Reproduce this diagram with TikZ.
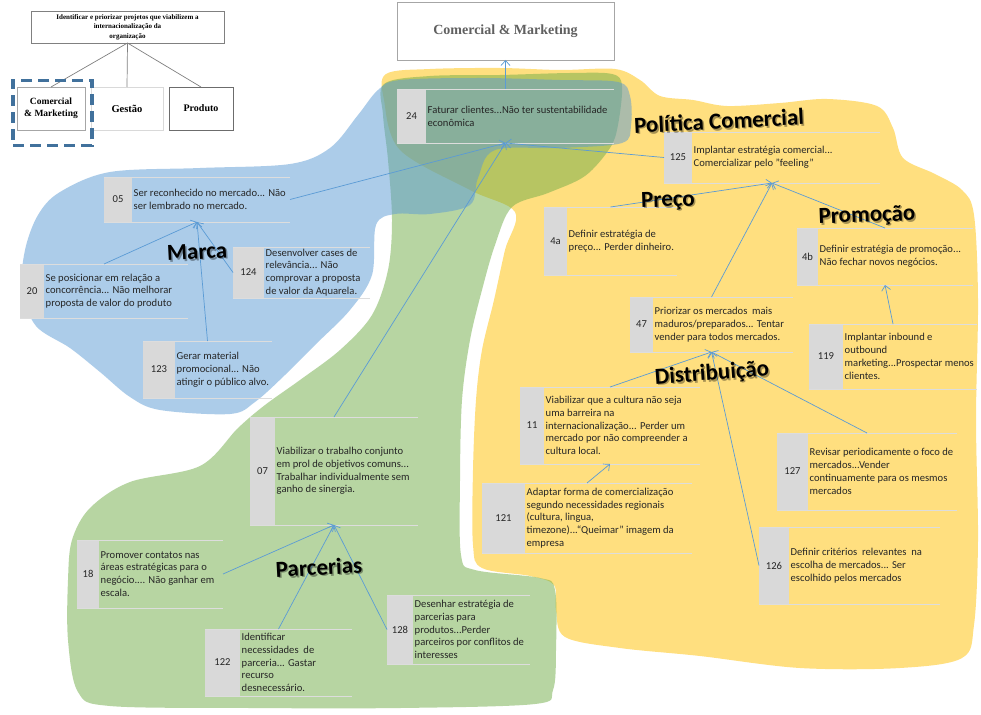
\documentclass[tikz,border=0pt]{standalone}
\usepackage{fontspec}
\setmainfont{Carlito}
\newfontfamily\timesfont{Liberation Serif}
\usetikzlibrary{arrows.meta}

\definecolor{blueF}{HTML}{5B9BD5}
\definecolor{greenF}{HTML}{70AD47}
\definecolor{yellowF}{HTML}{FFC000}
\definecolor{connblue}{HTML}{5B9BD5}
\definecolor{cellgray}{HTML}{D9D9D9}
\definecolor{rowgray}{HTML}{DDDDDD}
\definecolor{textdark}{HTML}{262626}
\definecolor{dashblue}{HTML}{41719C}
\definecolor{boxgray}{HTML}{A6A6A6}

\tikzset{
  issuetext/.style={font=\fontsize{10.6}{12.8}\selectfont, text=textdark, align=left, inner sep=0pt, anchor=west},
  numtext/.style={font=\fontsize{10.6}{12}\selectfont, text=textdark, inner sep=0pt},
  rowbox/.style={draw=none, inner sep=0pt, outer sep=0pt, rectangle},
  rowline/.style={draw=rowgray, line width=0.8pt},
  conn/.style={draw=connblue, line width=0.7pt, -{Straight Barb[length=5pt,width=9pt]}},
  regiontitle/.style={font=\fontsize{23}{23}\selectfont\bfseries, inner sep=0pt},
  hbox/.style={draw=#1, line width=0.8pt, fill=white, inner sep=1pt, align=center, outer sep=0pt},
  hline/.style={draw=gray, line width=0.7pt},
  region/.style={fill=#1, fill opacity=0.5, draw=none},
}

% one issue row: name, x1, y1, x2, y2, right edge of the number cell, number, text
\newcommand\issuerow[8]{%
  \fill[cellgray] (#2,#3) rectangle (#6,#5);
  \draw[rowline] (#2,#3) -- (#4,#3) (#2,#5) -- (#4,#5);
  \node[rowbox, minimum width={(#4)-(#2)}, minimum height={(#5)-(#3)}] (#1) at ({((#2)+(#4))/2},{((#3)+(#5))/2}) {};
  \node[numtext] (#1num) at ({((#2)+(#6))/2},{((#3)+(#5))/2}) {#7};
  \node[issuetext] (#1txt) at ({(#6)+1.5},{((#3)+(#5))/2}) {#8};
}

% area heading with a soft shadow: name, x, y, angle, text
\newcommand\areaheading[5]{%
  \node[regiontitle, text=black, opacity=0.35, rotate=#4] (#1shadow) at ({(#2)+1.5},{(#3)+1.5}) {#5};
  \node[regiontitle, rotate=#4] (#1) at (#2,#3) {#5};
}

\begin{document}
\begin{tikzpicture}[x=1pt,y=-1pt]
\useasboundingbox (0,0) rectangle (981,714);
\fill[white] (0,0) rectangle (981,714);

% ---- coloured areas ----
\path[region=yellowF] plot[smooth cycle, tension=0.55] coordinates {
  (386,74) (430,69) (500,68) (560,70) (615,69) (640,80) (660,96) (693,100)
  (727,106) (780,103) (827,99) (877,106) (893,128) (903,158) (935,174)
  (962,190) (974,215) (978,300) (976,420) (978,540) (974,625) (962,658)
  (900,668) (800,668) (700,656) (620,648) (565,637) (556,610) (554,585)
  (530,576) (482,568) (473,545) (473,470) (476,400) (482,350) (494,300)
  (505,250) (515,212) (470,190) (400,150) (384,100)};

\path[region=greenF] plot[smooth cycle, tension=0.55] coordinates {
  (384,84) (430,76) (500,75) (570,73) (612,74) (622,86) (618,125) (610,148)
  (585,176) (548,193) (512,207) (495,245) (482,290) (470,340) (462,400)
  (460,480) (461,555) (475,570) (540,578) (555,590) (556,650) (553,690)
  (535,704) (400,708) (250,708) (110,706) (78,692) (68,640) (68,580)
  (72,540) (90,508) (130,482) (200,466) (238,428) (265,405) (300,380)
  (340,350) (372,315) (388,270) (392,220) (388,160) (383,115)};

\path[region=blueF] plot[smooth cycle, tension=0.55] coordinates {
  (60,192) (110,172) (200,168) (290,164) (330,148) (358,115) (378,90)
  (400,80) (480,78) (560,80) (618,82) (630,96) (631,125) (622,143)
  (560,148) (495,150) (478,178) (470,205) (430,214) (395,214) (376,225)
  (372,275) (350,310) (315,345) (285,375) (255,402) (230,414) (160,410)
  (130,397) (100,372) (70,348) (36,326) (22,290) (25,250) (38,215)};

% ---- hierarchy, top left ----
\node[hbox=gray, minimum width=193, minimum height=32,
      font=\timesfont\bfseries\fontsize{7}{9.4}\selectfont] (goal) at (127.5,27)
  {Identificar e priorizar projetos que viabilizem a\\internacionalização da\\organização};
\node[hbox=boxgray, minimum width=68, minimum height=43,
      font=\timesfont\bfseries\fontsize{9.5}{11.8}\selectfont] (cm) at (51,108.5) {Comercial\\\& Marketing};
\node[hbox=cellgray, minimum width=72, minimum height=43,
      font=\timesfont\bfseries\fontsize{10.5}{12}\selectfont] (gestao) at (127,108.5) {Gestão};
\node[hbox=gray!85!black, minimum width=64, minimum height=43,
      font=\timesfont\bfseries\fontsize{10}{12}\selectfont] (produto) at (201,108.5) {Produto};
\draw[hline] (goal.south) -- (cm.north);
\draw[hline] (goal.south) -- (gestao.north);
\draw[hline] (goal.south) -- (produto.north);
\node[draw=dashblue, line width=3.6pt, dash pattern=on 11pt off 6pt, minimum width=79, minimum height=65,
      inner sep=0pt] (cmsel) at (52.5,113) {};

% ---- heading box ----
\node[hbox=boxgray, minimum width=217, minimum height=58, text=gray!75!black,
      font=\timesfont\bfseries\fontsize{14}{15}\selectfont] (topcm) at (505.5,31) {Comercial \& Marketing};

% ---- issue rows ----
\issuerow{n24}{397}{89}{614}{143}{426}{24}{Faturar clientes...Não ter sustentabilidade\\econômica}
\issuerow{n05}{104}{177}{290}{222}{132}{05}{Ser reconhecido no mercado... Não\\ser lembrado no mercado.}
\issuerow{n20}{20}{264}{188}{318}{44}{20}{Se posicionar em relação a\\concorrência... Não melhorar\\proposta de valor do produto}
\issuerow{n124}{233}{247}{370}{298}{264}{124}{Desenvolver cases de\\relevância... Não\\comprovar a proposta\\de valor da Aquarela.}
\issuerow{n123}{143}{341}{272}{398}{175}{123}{Gerar material\\promocional... Não\\atingir o público alvo.}
\issuerow{n125}{664}{132}{880}{183}{692}{125}{Implantar estratégia comercial...\\Comercializar pelo "feeling"}
\issuerow{n4a}{544}{207}{677}{275}{567}{4a}{Definir estratégia de\\preço... Perder dinheiro.}
\issuerow{n4b}{797}{228}{973}{285}{818}{4b}{Definir estratégia de promoção...\\Não fechar novos negócios.}
\issuerow{n47}{630}{297}{793}{352}{653}{47}{Priorizar os mercados\ \ mais\\maduros/preparados... Tentar\\vender para todos mercados.}
\issuerow{n119}{809}{324}{977}{389}{843}{119}{Implantar inbound e\\outbound\\marketing...Prospectar menos\\clientes.}
\issuerow{n11}{520}{387}{700}{464}{544}{11}{Viabilizar que a cultura não seja\\uma barreira na\\internacionalização... Perder um\\mercado por não compreender a\\cultura local.}
\issuerow{n121}{482}{483}{692}{553}{525}{121}{Adaptar forma de comercialização\\segundo necessidades regionais\\(cultura, lingua,\\timezone)...“Queimar” imagem da\\empresa}
\issuerow{n127}{777}{433}{957}{510}{808}{127}{Revisar periodicamente o foco de\\mercados...Vender\\continuamente para os mesmos\\mercados}
\issuerow{n126}{759}{527}{940}{604}{789}{126}{Definir critérios\ \ relevantes\ \ na\\escolha de mercados... Ser\\escolhido pelos mercados}
\issuerow{n07}{250}{417}{418}{525}{275}{07}{Viabilizar o trabalho conjunto\\em prol de objetivos comuns...\\Trabalhar individualmente sem\\ganho de sinergia.}
\issuerow{n18}{77}{540}{223}{608}{99}{18}{Promover contatos nas\\áreas estratégicas para o\\negócio.... Não ganhar em\\escala.}
\issuerow{n122}{205}{629}{352}{696}{240}{122}{Identificar\\necessidades\ \ de\\parceria... Gastar\\recurso\\desnecessário.}
\issuerow{n128}{387}{595}{530}{664}{413}{128}{Desenhar estratégia de\\parcerias para\\produtos...Perder\\parceiros por conflitos de\\interesses}

% ---- connectors ----
\draw[conn] (n24.north) -- (topcm.south);
\draw[conn] (n125.west) -- (n24.south);
\draw[conn] (n05.east) -- (n24.south);
\draw[conn] (n07.north) -- (n24.south);
\draw[conn] (n20.north) -- (n05.south);
\draw[conn] (n124.west) -- (n05.south);
\draw[conn] (n123.north) -- (n05.south);
\draw[conn] (n4a.north) -- (n125.south);
\draw[conn] (n47.north) -- (n125.south);
\draw[conn] (n4b.north) -- (n125.south);
\draw[conn] (n119.north) -- (n4b.south);
\draw[conn] (n11.north) -- (n47.south);
\draw[conn] (n127.north) -- (n47.south);
\draw[conn] (n126.west) -- (n47.south);
\draw[conn] (n121.north) -- (n11.south);
\draw[conn] (n18.east) -- (n07.south);
\draw[conn] (n122.north) -- (n07.south);
\draw[conn] (n128.west) -- (n07.south);

% ---- area headings ----
\areaheading{tmarca}{197}{252}{3}{Marca}
\areaheading{tparc}{319}{567}{3}{Parcerias}
\areaheading{tpol}{719}{121}{3}{Política Comercial}
\areaheading{tpreco}{668}{201}{2}{Preço}
\areaheading{tpromo}{867}{216}{2}{Promoção}
\areaheading{tdist}{712}{374}{4}{Distribuição}
\end{tikzpicture}
\end{document}
